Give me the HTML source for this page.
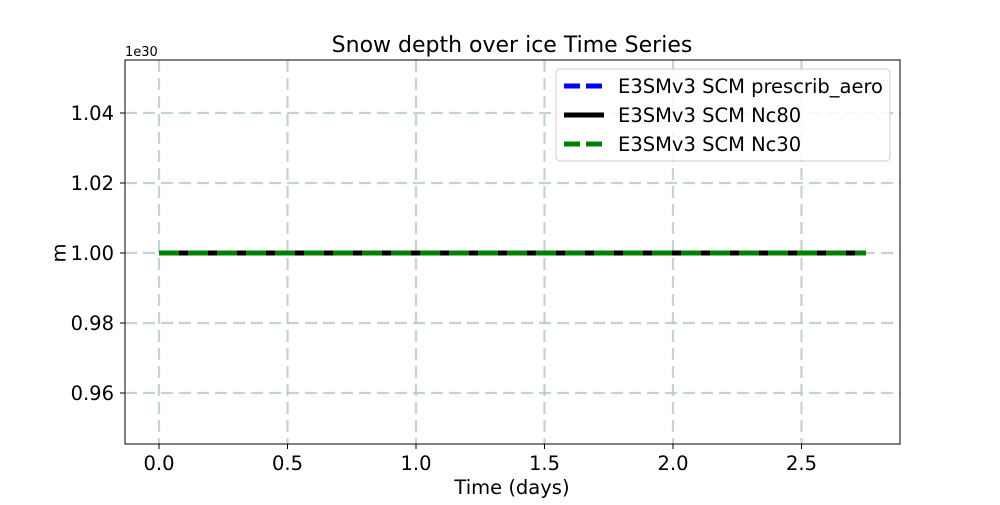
<!DOCTYPE html>
<html><head><meta charset="utf-8"><style>
body{margin:0;background:#fff;font-family:"Liberation Sans","DejaVu Sans",sans-serif}
svg text{font-family:"DejaVu Sans","Liberation Sans",sans-serif}
</style></head><body>
<svg id="c" width="1000" height="500" xmlns="http://www.w3.org/2000/svg">
<rect width="1000" height="500" fill="#fff"/>
<g id="grid"></g><g id="series"></g><g id="axes"></g>
<text x="512" y="52" font-size="22" text-anchor="middle">Snow depth over ice Time Series</text>
<text x="125" y="56" font-size="13">1e30</text>
<text x="512" y="494" font-size="19.5" text-anchor="middle">Time (days)</text>
<text x="60" y="253" font-size="19.5" text-anchor="middle" transform="rotate(-90 60 253)" dominant-baseline="middle">m</text>
<g>
<rect x="556" y="69" width="334" height="92" rx="4" fill="#fff" fill-opacity="0.85" stroke="#ccc"/>
<line x1="564" y1="86" x2="604" y2="86" stroke="#0000ff" stroke-width="5" stroke-dasharray="16,6"/>
<text x="618" y="93" font-size="19.5">E3SMv3 SCM prescrib_aero</text>
<line x1="564" y1="115" x2="604" y2="115" stroke="#000" stroke-width="5"/>
<text x="618" y="122" font-size="19.5">E3SMv3 SCM Nc80</text>
<line x1="564" y1="144" x2="604" y2="144" stroke="#008000" stroke-width="5" stroke-dasharray="16,6"/>
<text x="618" y="151" font-size="19.5">E3SMv3 SCM Nc30</text>
</g>
</svg>
<script>
const times=[0,0.25,0.5,0.75,1.0,1.25,1.5,1.75,2.0,2.25,2.5,2.75];
const prescribAero=[1,1,1,1,1,1,1,1,1,1,1,1];
const nc80=[1,1,1,1,1,1,1,1,1,1,1,1];
const nc30=[1,1,1,1,1,1,1,1,1,1,1,1];
const xTicks=[0,0.5,1.0,1.5,2.0,2.5];
const xTickLabels=["0.0","0.5","1.0","1.5","2.0","2.5"];
const yTicks=[0.96,0.98,1.00,1.02,1.04];
const yTickLabels=["0.96","0.98","1.00","1.02","1.04"];
const L=125,R=900,T=60,B=444;
const xs=v=>159+v*257;
const ys=v=>253-(v-1)/0.02*70;
const NS="http://www.w3.org/2000/svg";
function mk(tag,attrs,parent){const e=document.createElementNS(NS,tag);for(const k in attrs)e.setAttribute(k,attrs[k]);parent.appendChild(e);return e;}
const grid=document.getElementById('grid'),ax=document.getElementById('axes'),ser=document.getElementById('series');
xTicks.forEach((t,i)=>{const x=xs(t);
 const g=mk('line',{x1:x,x2:x,y1:T,y2:B,stroke:'#b0c4c4','stroke-opacity':0.75,'stroke-width':2.2,'stroke-dasharray':'12,6'},grid);
 
 
 mk('line',{x1:x,x2:x,y1:B,y2:B+5,stroke:'#000','stroke-width':1},ax);
 const tx=mk('text',{x:x,y:B+26,'font-size':19.5,'text-anchor':'middle'},ax);tx.textContent=xTickLabels[i];
 
 
});
yTicks.forEach((t,i)=>{const y=ys(t);
 const g=mk('line',{x1:L,x2:R,y1:y,y2:y,stroke:'#b0c4c4','stroke-opacity':0.75,'stroke-width':2.2,'stroke-dasharray':'12,6'},grid);
 
 
 mk('line',{x1:L-5,x2:L,y1:y,y2:y,stroke:'#000','stroke-width':1},ax);
 const tx=mk('text',{x:L-11,y:y+7,'font-size':19.5,'text-anchor':'end'},ax);tx.textContent=yTickLabels[i];
 
 
});
const fr=mk('rect',{x:L,y:T,width:R-L,height:B-T,fill:'none',stroke:'#000','stroke-width':1},ax);


function pts(vals){return times.map((t,i)=>xs(t)+','+ys(vals[i])).join(' ');}
const s1=mk('polyline',{points:pts(prescribAero),fill:'none',stroke:'#0000ff','stroke-width':5,'stroke-dasharray':'20,9'},ser);


const s2=mk('polyline',{points:pts(nc80),fill:'none',stroke:'#000','stroke-width':5},ser);


const s3=mk('polyline',{points:pts(nc30),fill:'none',stroke:'#008000','stroke-width':5,'stroke-dasharray':'20,9'},ser);


</script>
</body></html>
